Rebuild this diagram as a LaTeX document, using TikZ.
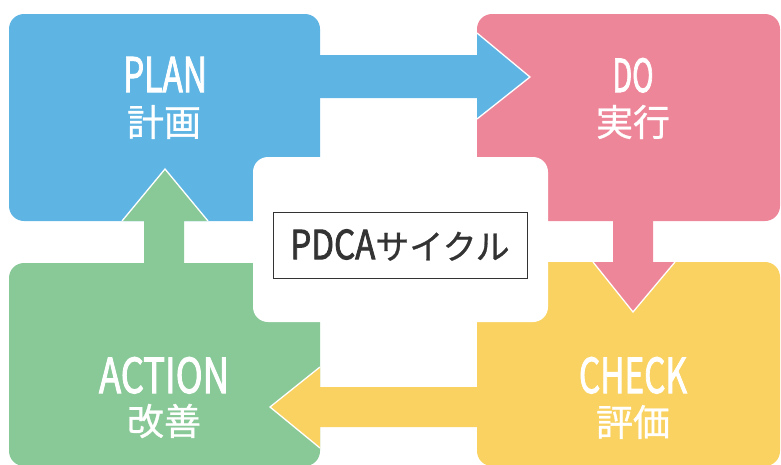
\documentclass[tikz,border=0pt]{standalone}
\usepackage{fontspec}
\newfontfamily\jp[FakeBold=0.8]{Noto Sans CJK JP}
\newfontfamily\jplat[FakeBold=2.2]{Noto Sans CJK JP}
\definecolor{pblue}{RGB}{94,181,228}
\definecolor{ppink}{RGB}{238,134,153}
\definecolor{pyellow}{RGB}{249,210,98}
\definecolor{pgreen}{RGB}{137,200,151}
\definecolor{ptext}{RGB}{51,51,51}
\newcommand\fitw[3]{\resizebox{#1pt}{#2pt}{\jplat #3}}
\tikzset{
  panel/.style={rounded corners=15pt},
  lbl/.style={anchor=base, inner sep=0pt, text=white, font=\jp},
  jlbl/.style={anchor=base, inner sep=0pt, text=white, font=\jp\fontsize{37}{37}\selectfont},
  headedge/.style={draw=white, line width=1.3pt},
}
\begin{document}
\begin{tikzpicture}[x=1pt,y=-1pt]
\useasboundingbox (0,0) rectangle (781,464);
% panels
\fill[pblue, panel] (9,14) rectangle (320,221);
\fill[ppink, panel] (477,14) rectangle (780,221);
\fill[pyellow, panel] (477,262) rectangle (780,466);
\fill[pgreen, panel] (9,263) rectangle (320,466);
% centre
\fill[white, panel] (253,157) rectangle (548,322);
\node[draw=ptext, line width=0.9pt, minimum width=254pt, minimum height=66pt, inner sep=0pt, text=ptext, font=\jp\fontsize{34}{34}\selectfont] (title) at (400,245)
  {\fitw{85}{30}{PDCA}サイクル};
% arrows
\coordinate (bt) at (530,77);
\fill[pblue] (312,55) -- (477,55) -- (477,33) -- (bt) -- (477,119) -- (477,98) -- (312,98) -- cycle;
\draw[headedge] (477,33) -- (bt) -- (477,119);
\coordinate (pt) at (633,312);
\fill[ppink] (613,214) -- (613,262) -- (593,262) -- (pt) -- (675,262) -- (653,262) -- (653,214) -- cycle;
\draw[headedge] (593,262) -- (pt) -- (675,262);
\coordinate (yt) at (270,407);
\fill[pyellow] (485,387) -- (320,387) -- (320,367) -- (yt) -- (320,448) -- (320,427) -- (485,427) -- cycle;
\draw[headedge] (320,367) -- (yt) -- (320,448);
\coordinate (gt) at (165,169);
\fill[pgreen] (144,270) -- (144,221) -- (122,221) -- (gt) -- (208,221) -- (184,221) -- (184,270) -- cycle;
\draw[headedge] (122,221) -- (gt) -- (208,221);
% labels
\node[lbl] (planEN) at (165,92) {\fitw{84}{35}{PLAN}};
\node[jlbl] (planJP) at (164,136) {計画};
\node[lbl] (doEN) at (633,92) {\fitw{41}{34}{DO}};
\node[jlbl] (doJP) at (633,136) {実行};
\node[lbl] (checkEN) at (633,393) {\fitw{108}{36}{CHECK}};
\node[jlbl] (checkJP) at (633,436) {評価};
\node[lbl] (actEN) at (164,393) {\fitw{130}{36}{ACTION}};
\node[jlbl] (actJP) at (164,435) {改善};
\end{tikzpicture}
\end{document}
